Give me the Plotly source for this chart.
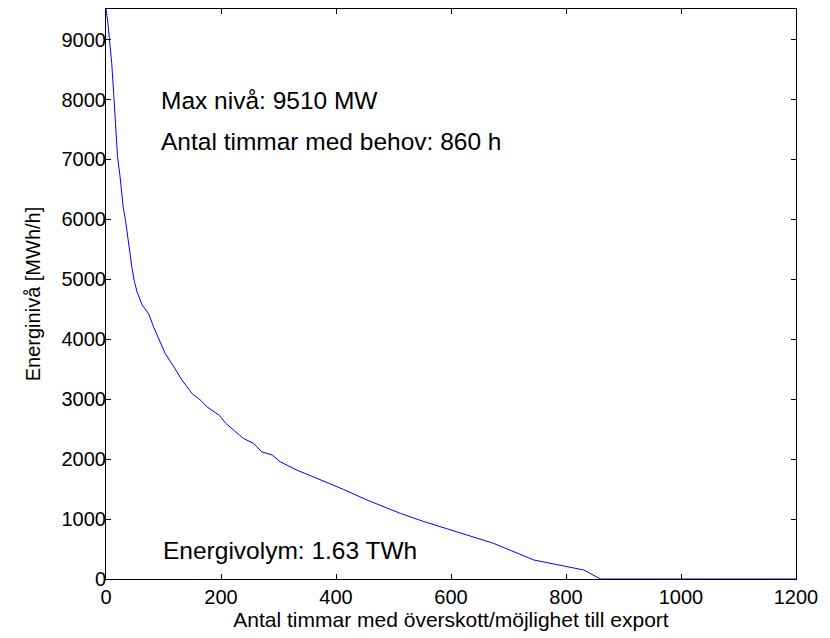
import plotly.graph_objects as go

# Duration curve: hours with surplus vs energy level (MWh/h)
hours = [0, 1, 3, 6, 10, 14, 17, 20, 24, 27, 30, 34, 40, 45, 49, 54, 63, 74, 83, 93,
         103, 118, 132, 150, 165, 176, 197, 208, 222, 239, 257, 271, 289, 303, 332,
         361, 396, 413, 454, 512, 550, 599, 674, 744, 802, 831, 860, 1200]
level = [9510, 9450, 9300, 9000, 8600, 8000, 7550, 7050, 6750, 6450, 6200, 5980, 5540,
         5200, 4980, 4790, 4570, 4430, 4200, 3980, 3760, 3540, 3320, 3090, 2980, 2870,
         2730, 2600, 2480, 2345, 2260, 2120, 2070, 1955, 1817, 1705, 1567, 1495, 1317,
         1095, 967, 817, 595, 317, 205, 150, 0, 0]

x_ticks = [0, 200, 400, 600, 800, 1000, 1200]
y_ticks = [0, 1000, 2000, 3000, 4000, 5000, 6000, 7000, 8000, 9000]

annot_text = ["Max nivå: 9510 MW", "Antal timmar med behov: 860 h", "Energivolym: 1.63 TWh"]
annot_x = [93, 93, 96]
annot_y = [7980, 7300, 480]

FONT = "Liberation Sans, Arial, sans-serif"

fig = go.Figure()
fig.add_trace(go.Scatter(x=hours, y=level, mode="lines",
                         line=dict(color="#0000FF", width=1), showlegend=False))

for t, xx, yy in zip(annot_text, annot_x, annot_y):
    fig.add_annotation(x=xx, y=yy, xref="x", yref="y", text=t, showarrow=False,
                       xanchor="left", yanchor="middle",
                       font=dict(family=FONT, size=24.5, color="black"))

axis_common = dict(showline=True, linecolor="black", linewidth=1, mirror="ticks",
                   ticks="inside", ticklen=5, tickcolor="black", showgrid=False,
                   zeroline=False, tickfont=dict(family=FONT, size=20, color="black"))

fig.update_xaxes(range=[0, 1200], tickvals=x_ticks, ticktext=[str(v) for v in x_ticks],
                 title=dict(text="Antal timmar med överskott/möjlighet till export",
                            font=dict(family=FONT, size=21, color="black"), standoff=5),
                 **axis_common)
fig.update_yaxes(range=[0, 9510], tickvals=y_ticks, ticktext=[str(v) for v in y_ticks],
                 ticklabelstandoff=-5,
                 title=dict(text="Energinivå [MWh/h]",
                            font=dict(family=FONT, size=20, color="black"), standoff=15),
                 **axis_common)

fig.update_layout(width=830, height=638, paper_bgcolor="white", plot_bgcolor="white",
                  margin=dict(l=106, r=34, t=9, b=59, autoexpand=False),
                  font=dict(family=FONT, color="black"))

fig.write_html("out.html", config={"displayModeBar": False},
               post_script="document.body.style.margin='0';document.body.style.overflow='hidden';")
